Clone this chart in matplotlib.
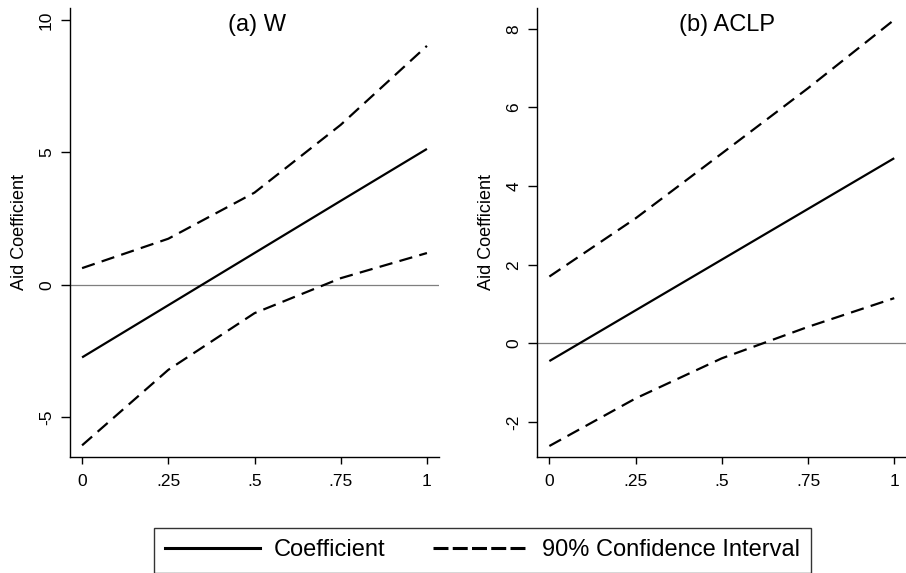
import matplotlib
matplotlib.use("Agg")
import matplotlib.pyplot as plt
from matplotlib.lines import Line2D

plt.rcParams['font.family'] = ['Liberation Sans', 'DejaVu Sans']

x_vals = [0, 0.25, 0.5, 0.75, 1]
x_ticklabels = ["0", ".25", ".5", ".75", "1"]

# Panel (a) W
w_coef = [-2.74, -0.77, 1.20, 3.17, 5.13]
w_upper = [0.63, 1.74, 3.48, 6.04, 9.02]
w_lower = [-6.06, -3.21, -1.07, 0.25, 1.20]
w_yticks = [-5, 0, 5, 10]

# Panel (b) ACLP
aclp_coef = [-0.45, 0.84, 2.13, 3.42, 4.71]
aclp_upper = [1.70, 3.18, 4.83, 6.49, 8.23]
aclp_lower = [-2.61, -1.40, -0.38, 0.42, 1.15]
aclp_yticks = [-2, 0, 2, 4, 6, 8]

titles = ["(a) W", "(b) ACLP"]
ylabel = "Aid Coefficient"
legend_labels = ["Coefficient", "90% Confidence Interval"]

W, H = 906, 573
fig = plt.figure(figsize=(W / 100, H / 100), dpi=100)

def px_axes(x0, x1, ytop, ybot):
    return fig.add_axes([x0 / W, (H - ybot) / H, (x1 - x0) / W, (ybot - ytop) / H])

ax1 = px_axes(70, 439, 8, 457)
ax2 = px_axes(537.3, 906.3, 8, 457)

dash = (6.0, 3.3)
lw = 1.6

panels = [
    (ax1, w_coef, w_upper, w_lower, w_yticks, (-6.5, 10.45), titles[0], 0.506),
    (ax2, aclp_coef, aclp_upper, aclp_lower, aclp_yticks, (-2.89, 8.53), titles[1], 0.513),
]

for ax, coef, up, lo, yt, ylim, title, tx in panels:
    ax.axhline(0, color="#7f7f7f", lw=0.9, zorder=1)
    ax.plot(x_vals, coef, color="black", lw=lw, solid_capstyle="butt", zorder=3)
    ax.plot(x_vals, up, color="black", lw=lw, dashes=dash, zorder=3)
    ax.plot(x_vals, lo, color="black", lw=lw, dashes=dash, zorder=3)
    ax.set_xlim(-0.035, 1.035)
    ax.set_ylim(*ylim)
    ax.set_xticks(x_vals)
    ax.set_xticklabels(x_ticklabels)
    ax.set_yticks(yt)
    ax.set_yticklabels([str(v) for v in yt], rotation=90, va="center")
    ax.spines["top"].set_visible(False)
    ax.spines["right"].set_visible(False)
    for s in ("left", "bottom"):
        ax.spines[s].set_linewidth(1.0)
    ax.tick_params(axis="x", length=5, width=1.0, pad=7, labelsize=12.5)
    ax.tick_params(axis="y", length=6.5, width=1.0, pad=5, labelsize=12.5)
    ax.set_ylabel(ylabel, fontsize=13, labelpad=8)
    ax.text(tx, 0.962, title, transform=ax.transAxes, ha="center", va="center", fontsize=17)
    ax.set_facecolor("none")

handles = [
    Line2D([], [], color="black", lw=2.2),
    Line2D([], [], color="black", lw=2.2, dashes=(4.9, 1.4)),
]
leg = fig.legend(handles, legend_labels, ncol=2, loc="center",
                 bbox_to_anchor=(482.5 / W, (H - 550.5) / H),
                 fontsize=17, frameon=True, fancybox=False, handlelength=4.0,
                 handletextpad=0.6, columnspacing=2.0, borderpad=0.47,
                 borderaxespad=0)
leg.get_frame().set_edgecolor("black")
leg.get_frame().set_linewidth(1.0)

fig.savefig("out.png", dpi=100)
